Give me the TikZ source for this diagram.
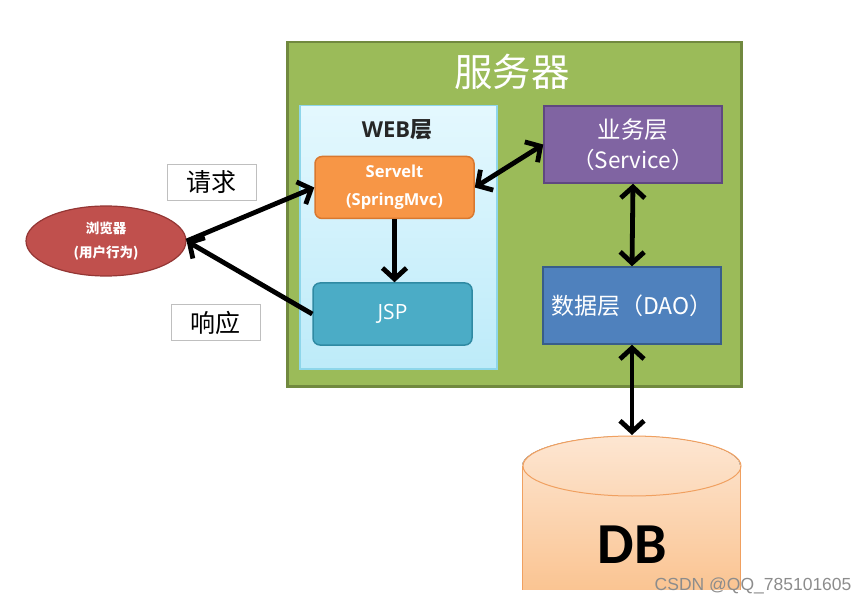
\documentclass[tikz,border=0pt]{standalone}
\usepackage{fontspec}
\setmainfont{Open Sans}
\newfontfamily\cjk{Noto Sans CJK SC}
\newfontfamily\dbfont{Carlito}
\newfontfamily\wm{Liberation Sans}
\usetikzlibrary{arrows.meta,shapes.geometric}
\definecolor{srvgreen}{HTML}{9BBB59}
\definecolor{srvborder}{HTML}{71893F}
\definecolor{webfillA}{HTML}{E4F8FE}
\definecolor{webfillB}{HTML}{BDEBF9}
\definecolor{webborder}{HTML}{8ED6EA}
\definecolor{orangeF}{HTML}{F79646}
\definecolor{orangeB}{HTML}{D9782F}
\definecolor{tealF}{HTML}{4BACC6}
\definecolor{tealB}{HTML}{2F8AA3}
\definecolor{purpF}{HTML}{8064A2}
\definecolor{purpB}{HTML}{5F4880}
\definecolor{blueF}{HTML}{4F81BD}
\definecolor{blueB}{HTML}{385D8A}
\definecolor{redF}{HTML}{C0504D}
\definecolor{redB}{HTML}{943634}
\definecolor{dbA}{HTML}{FDE6D2}
\definecolor{dbB}{HTML}{FAC28E}
\definecolor{dbBorder}{HTML}{F0A060}
\tikzset{
  conn/.style={line width=4.8pt, black},
  tipR/.style={-{Straight Barb[length=11pt,width=24pt,line width=4.8pt]}},
  tipLR/.style={{Straight Barb[length=11pt,width=24pt,line width=4.8pt]}-{Straight Barb[length=11pt,width=24pt,line width=4.8pt]}},
  labelbox/.style={draw=black!25, line width=1pt, fill=white, minimum width=89pt, minimum height=36pt, font=\cjk\fontsize{25}{28}\selectfont},
  layerbox/.style={line width=1.5pt, minimum width=178pt, minimum height=77pt, text=white, align=center},
  webbox/.style={line width=1.5pt, rounded corners=7pt, minimum width=159pt, minimum height=62pt, text=white, align=center}
}
\begin{document}
\begin{tikzpicture}[x=1pt,y=-1pt]
\useasboundingbox (0,0) rectangle (868,604);
% server
\node[draw=srvborder, fill=srvgreen, line width=2.5pt, minimum width=454pt, minimum height=344pt, anchor=north west] (srv) at (286,41) {};
\node[text=white, font=\cjk\fontsize{38.5}{42}\selectfont] (srvt) at (512,72) {服务器};
% web layer
\node[draw=webborder, top color=webfillA, bottom color=webfillB, line width=1.5pt, minimum width=197pt, minimum height=263pt, anchor=north west] (web) at (299,105) {};
\node[font=\bfseries\fontsize{22}{24}\selectfont, text=black!85] (webt) at (397,130) {WEB{\cjk 层}};
\node[webbox, draw=orangeB, fill=orangeF, font=\bfseries\fontsize{16.5}{28}\selectfont] (servlet) at (394.5,187.5) {Servelt\\(SpringMvc)};
\node[webbox, draw=tealB, fill=tealF, font=\fontsize{21}{24}\selectfont] (jsp) at (392.5,314) {JSP};
% service & dao
\node[layerbox, draw=purpB, fill=purpF, font=\cjk\fontsize{22.5}{30}\selectfont] (svc) at (633,144.5) {{\fontsize{23.5}{30}\selectfont 业务层}\\（Service）};
\node[layerbox, draw=blueB, fill=blueF, font=\cjk\fontsize{23}{26}\selectfont] (dao) at (632,305.5) {数据层（DAO）};
% browser
\node[ellipse, draw=redB, fill=redF, line width=1.2pt, minimum width=160pt, minimum height=70pt, text=white, align=center, font=\cjk\bfseries\fontsize{13.5}{24}\selectfont] (br) at (106,241) {浏览器\\(用户行为)};
% labels
\node[labelbox] (req) at (211.5,182.5) {请求};
\node[labelbox] (resp) at (215.5,322.5) {响应};
% DB cylinder
\coordinate (dbtop) at (632,435);
\begin{scope}
\clip (500,420) rectangle (760,590);
\fill[top color=dbA, bottom color=dbB] (522,466) -- (522,600) -- (740,600) -- (740,466) arc[start angle=0,end angle=180,x radius=109pt,y radius=30pt] -- cycle;
\draw[dbBorder, line width=1pt] (522,600) -- (522,466);
\draw[dbBorder, line width=1pt] (740,600) -- (740,466);
\draw[dbBorder, line width=1pt] (632,466) ellipse[x radius=109pt, y radius=30pt];
\end{scope}
\fill[white] (0,590) rectangle (868,604);
\node[font=\dbfont\bfseries\fontsize{58}{62}\selectfont] (db) at (632,545) {DB};
\node[text=black!45, font=\wm\fontsize{17.5}{20}\selectfont, anchor=east] (wmk) at (855,586) {CSDN @QQ\_785101605};
% connectors
\draw[conn, tipR] (br.east) -- (servlet.west);
\draw[conn, tipR] (jsp.west) -- (br.east);
\draw[conn, tipLR] (servlet.east) -- (svc.west);
\draw[conn, tipR] (servlet.south) -- (servlet.south |- jsp.north);
\draw[conn, tipLR] (svc.south) -- (dao.north);
\draw[conn, tipLR] (dao.south) -- (dbtop);
\end{tikzpicture}
\end{document}
